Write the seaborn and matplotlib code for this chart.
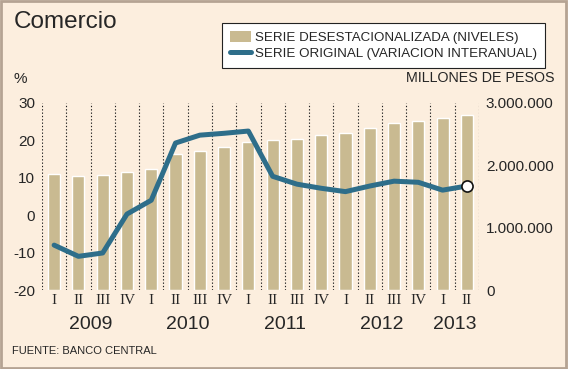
import numpy as np
import matplotlib
matplotlib.use("Agg")
import matplotlib.pyplot as plt
from matplotlib.patches import Patch, Rectangle
from matplotlib.lines import Line2D
from matplotlib.transforms import blended_transform_factory
import seaborn as sns

# datos
trimestres = ["I", "II", "III", "IV", "I", "II", "III", "IV", "I", "II", "III", "IV",
              "I", "II", "III", "IV", "I", "II"]
anios = ["2009", "2010", "2011", "2012", "2013"]
anio_pos = [1.5, 5.5, 9.5, 13.5, 16.5]
niveles = [1860000, 1830000, 1850000, 1890000, 1940000, 2180000, 2230000, 2300000, 2380000,
           2410000, 2420000, 2490000, 2520000, 2600000, 2680000, 2710000, 2760000, 2810000]
variacion = [-8.0, -11.0, -10.1, 0.3, 4.0, 19.3, 21.4, 21.9, 22.5,
             10.4, 8.3, 7.2, 6.3, 7.8, 9.1, 8.8, 6.7, 7.8]
ticks_pct = [-20, -10, 0, 10, 20, 30]
ticks_pesos = [0, 1000000, 2000000, 3000000]

fondo = "#FCEEDE"
c_barra = "#C9BA91"
c_linea = "#2E6E8A"

sns.set_style("white")
plt.rcParams["font.family"] = ["Liberation Sans", "DejaVu Sans"]

fig = plt.figure(figsize=(5.68, 3.69), dpi=100)
fig.patch.set_facecolor(fondo)
ax = fig.add_axes([42 / 568, 1 - 290 / 369, 437 / 568, 187 / 369])
ax2 = ax.twinx()
ax.patch.set_visible(False)
ax2.patch.set_visible(False)

x = np.arange(len(trimestres))

# lineas punteadas verticales
for k in range(len(trimestres) + 1):
    ax.axvline(k - 0.5, color="#222222", linestyle=(0, (1.2, 1.8)), linewidth=0.8, zorder=0)

sns.barplot(x=x, y=niveles, ax=ax, color=c_barra, saturation=1, width=0.5, zorder=2)
sns.lineplot(x=x, y=variacion, ax=ax2, color=c_linea, linewidth=3.6, zorder=3)
ax2.plot(x[-1], variacion[-1], "o", markersize=8, markerfacecolor="white",
         markeredgecolor="#111111", markeredgewidth=1.2, zorder=4)

ax.set_xlim(-0.5, len(trimestres) - 0.5)
ax.set_ylim(0, 3000000)
ax2.set_ylim(-20, 30)

ax.yaxis.tick_right()
ax2.yaxis.tick_left()
ax.set_yticks(ticks_pesos)
ax.set_yticklabels([f"{v:,}".replace(",", ".") for v in ticks_pesos], fontsize=11)
ax2.set_yticks(ticks_pct)
ax2.set_yticklabels([str(v) for v in ticks_pct], fontsize=11)
ax.tick_params(axis="y", length=0, pad=5)
ax2.tick_params(axis="y", length=0, pad=5)

ax.set_xticks(x)
ax.set_xticklabels(trimestres, fontsize=11, family="Liberation Serif")
ax.tick_params(axis="x", length=0, pad=3)
ax.set_xlabel("")
ax.set_ylabel("")
ax2.set_ylabel("")

for a in (ax, ax2):
    for s in a.spines.values():
        s.set_visible(False)

trans = blended_transform_factory(ax.transData, ax.transAxes)
for p, a in zip(anio_pos, anios):
    ax.text(p, -0.187, a, transform=trans, ha="center", va="center", fontsize=14)

fig.text(14 / 568, 1 - 22 / 369, "Comercio", fontsize=17.5, va="center", ha="left")
fig.text(14 / 568, 1 - 79 / 369, "%", fontsize=11, va="center", ha="left")
fig.text(555 / 568, 1 - 78 / 369, "MILLONES DE PESOS", fontsize=10.3, va="center", ha="right")
fig.text(12 / 568, 1 - 351 / 369, "FUENTE: BANCO CENTRAL", fontsize=8, va="center", ha="left")

handles = [Patch(facecolor=c_barra, edgecolor="none"),
           Line2D([], [], color=c_linea, linewidth=3.6, solid_capstyle="round")]
labels = ["SERIE DESESTACIONALIZADA (NIVELES)", "SERIE ORIGINAL (VARIACION INTERANUAL)"]
leg = fig.legend(handles, labels, loc="upper right", bbox_to_anchor=(552 / 568, 1 - 16 / 369),
                 frameon=True, fancybox=False, framealpha=1, edgecolor="#222222",
                 handlelength=1.6, handleheight=0.9, handletextpad=0.3, borderpad=0.6,
                 labelspacing=0.25, fontsize=9.6)
leg.get_frame().set_linewidth(0.8)

fig.add_artist(Rectangle((0.002, 0.003), 0.995, 0.994, transform=fig.transFigure,
                         fill=False, edgecolor="#B5A393", linewidth=2))

fig.savefig("out.png", dpi=100, facecolor=fondo)
